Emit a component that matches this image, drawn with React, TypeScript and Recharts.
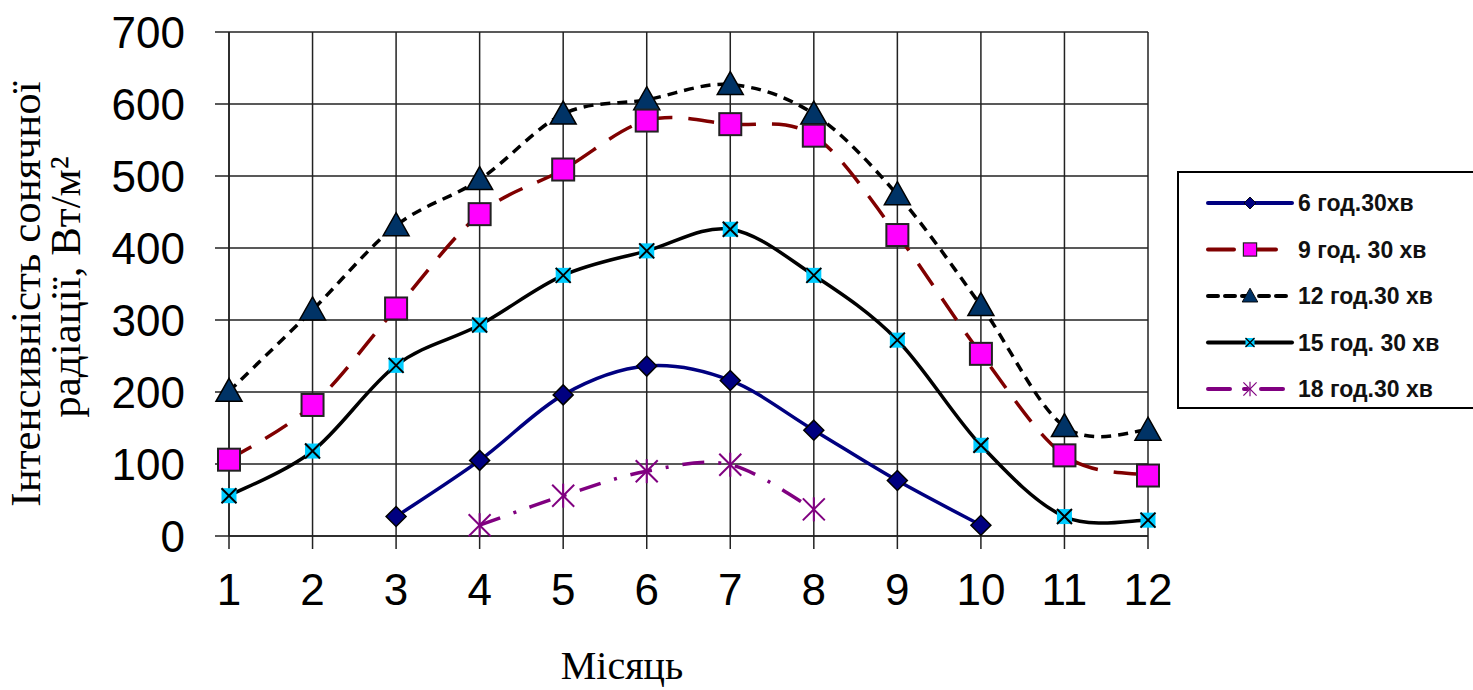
import { LineChart, Line, XAxis, YAxis, CartesianGrid } from "recharts";

const months = [1, 2, 3, 4, 5, 6, 7, 8, 9, 10, 11, 12];
const yTicks = [0, 100, 200, 300, 400, 500, 600, 700];

const s0630 = [null, null, 27, 105, 196, 236, 216, 147, 77, 15, null, null];
const s0930 = [106, 182, 316, 447, 509, 577, 572, 556, 418, 253, 112, 84];
const s1230 = [201, 314, 431, 495, 586, 606, 627, 586, 474, 320, 152, 147];
const s1530 = [56, 118, 237, 293, 362, 396, 426, 362, 272, 126, 27, 22];
const s1830 = [null, null, null, 15, 56, 90, 99, 37, null, null, null, null];

const rows = months.map((m, i) => ({
  month: m,
  s0630: s0630[i],
  s0930: s0930[i],
  s1230: s1230[i],
  s1530: s1530[i],
  s1830: s1830[i],
}));

// Excel style smoothing (Catmull-Rom as bezier)
const excelCurve = (context: any) => {
  let pts: number[][] = [];
  return {
    areaStart() {},
    areaEnd() {},
    lineStart() {
      pts = [];
    },
    point(x: number, y: number) {
      pts.push([+x, +y]);
    },
    lineEnd() {
      if (!pts.length) return;
      context.moveTo(pts[0][0], pts[0][1]);
      for (let i = 0; i < pts.length - 1; i++) {
        const p0 = pts[i - 1] || pts[i];
        const p1 = pts[i];
        const p2 = pts[i + 1];
        const p3 = pts[i + 2] || p2;
        context.bezierCurveTo(
          p1[0] + (p2[0] - p0[0]) / 6,
          p1[1] + (p2[1] - p0[1]) / 6,
          p2[0] - (p3[0] - p1[0]) / 6,
          p2[1] - (p3[1] - p1[1]) / 6,
          p2[0],
          p2[1]
        );
      }
    },
  };
};

const Diamond = ({ cx, cy }: any) => (
  <polygon
    points={`${cx},${cy - 10} ${cx + 10},${cy} ${cx},${cy + 10} ${cx - 10},${cy}`}
    fill="#000080"
    stroke="#000"
    strokeWidth={1.5}
  />
);
const Square = ({ cx, cy }: any) => (
  <rect x={cx - 11} y={cy - 11} width={22} height={22} fill="#FF00FF" stroke="#222" strokeWidth={2} />
);
const Triangle = ({ cx, cy }: any) => (
  <polygon
    points={`${cx},${cy - 13} ${cx + 13},${cy + 10} ${cx - 13},${cy + 10}`}
    fill="#003366"
    stroke="#000"
    strokeWidth={1.5}
  />
);
const XMark = ({ cx, cy }: any) => (
  <g>
    <rect x={cx - 7.5} y={cy - 7.5} width={15} height={15} fill="#00CCFF" />
    <line x1={cx - 7.5} y1={cy - 7.5} x2={cx + 7.5} y2={cy + 7.5} stroke="#000" strokeWidth={2} />
    <line x1={cx - 7.5} y1={cy + 7.5} x2={cx + 7.5} y2={cy - 7.5} stroke="#000" strokeWidth={2} />
  </g>
);
const Star = ({ cx, cy }: any) => (
  <g stroke="#800080" strokeWidth={2}>
    <line x1={cx} y1={cy - 12} x2={cx} y2={cy + 12} />
    <line x1={cx - 11} y1={cy - 11} x2={cx + 11} y2={cy + 11} />
    <line x1={cx - 11} y1={cy + 11} x2={cx + 11} y2={cy - 11} />
  </g>
);

const series = [
  { key: "s1230", name: "12 год.30 хв", color: "#000", dash: "10 7", Marker: Triangle, order: 2 },
  { key: "s0930", name: "9 год. 30 хв", color: "#800000", dash: "26 16", Marker: Square, order: 1 },
  { key: "s1530", name: "15 год. 30 хв", color: "#000", dash: undefined, Marker: XMark, order: 3 },
  { key: "s0630", name: "6 год.30хв", color: "#000080", dash: undefined, Marker: Diamond, order: 0 },
  { key: "s1830", name: "18 год.30 хв", color: "#800080", dash: "22 14 3 14", Marker: Star, order: 4 },
];

const makeDot = (Marker: any, key: string) => (props: any) => {
  const { cx, cy, index, value } = props;
  if (cx == null || cy == null || value == null) return <g key={`${key}-${index}`} />;
  return (
    <g key={`${key}-${index}`}>
      <Marker cx={cx} cy={cy} />
    </g>
  );
};

const YLabel = () => (
  <g fontFamily="'Liberation Serif', serif" fontSize={43} fill="#000">
    <text x={40} y={294} textAnchor="middle" transform="rotate(-90 40 294)">
      Інтенсивність сонячної
    </text>
    <text x={80} y={287} textAnchor="middle" transform="rotate(-90 80 287)">
      радіації, Вт/м²
    </text>
  </g>
);

const XLabel = () => (
  <text x={622} y={679} textAnchor="middle" fontFamily="'Liberation Serif', serif" fontSize={40} fill="#000">
    Місяць
  </text>
);

const legendOrder = [...series].sort((a, b) => a.order - b.order);

function ChartLegend() {
  return (
    <svg
      width={300}
      height={240}
      style={{ position: "absolute", left: 1177, top: 171 }}
    >
      <rect x={1} y={1} width={310} height={236} fill="#fff" stroke="#000" strokeWidth={2} />
      {legendOrder.map((s, i) => {
        const y = 32 + i * 46.5;
        const M = s.Marker;
        return (
          <g key={s.key}>
            <line
              x1={31}
              x2={115}
              y1={y}
              y2={y}
              stroke={s.color}
              strokeWidth={4}
              strokeDasharray={s.dash}
              strokeLinecap="round"
            />
            <g transform={`translate(${73},${y}) scale(0.6) translate(${-73},${-y})`}>
              <M cx={73} cy={y} />
            </g>
            <text
              x={121}
              y={y + 8}
              fontFamily="'Liberation Sans', Arial, sans-serif"
              fontSize={23}
              fontWeight="bold"
              fill="#111"
            >
              {s.name}
            </text>
          </g>
        );
      })}
    </svg>
  );
}

export default function App() {
  return (
    <div style={{ position: "absolute", left: 0, top: 0, width: 1473, height: 690, background: "#fff" }}>
      <LineChart
        width={1473}
        height={690}
        data={rows}
        margin={{ top: 32, right: 325, bottom: 0, left: 0 }}
      >
        <CartesianGrid stroke="#222" strokeWidth={1.5} />
        <XAxis
          dataKey="month"
          type="number"
          domain={[1, 12]}
          ticks={months}
          height={154}
          tickSize={13}
          tickMargin={25}
          stroke="#222"
          strokeWidth={1.5}
          tick={{ fill: "#000", fontSize: 44, fontFamily: "'Liberation Sans', Arial, sans-serif" }}
          label={{ content: XLabel }}
        />
        <YAxis
          type="number"
          domain={[0, 700]}
          ticks={yTicks}
          width={229}
          tickSize={14}
          tickMargin={30}
          stroke="#222"
          strokeWidth={1.5}
          tick={{ fill: "#000", fontSize: 44, fontFamily: "'Liberation Sans', Arial, sans-serif" }}
          label={{ content: YLabel }}
        />
        {series.map((s) => (
          <Line
            key={s.key}
            dataKey={s.key}
            name={s.name}
            type={excelCurve as any}
            stroke={s.color}
            strokeWidth={3.5}
            strokeDasharray={s.dash}
            dot={makeDot(s.Marker, s.key)}
            activeDot={false}
            isAnimationActive={false}
          />
        ))}
      </LineChart>
      <ChartLegend />
    </div>
  );
}
